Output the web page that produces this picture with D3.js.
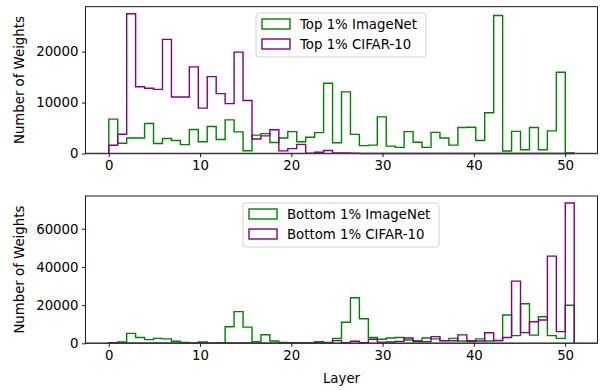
<!DOCTYPE html>
<html><head><meta charset="utf-8">
<script src="https://cdn.jsdelivr.net/npm/d3@7"></script>
<style>
body{margin:0;background:#fff;}
svg{display:block;font-family:"DejaVu Sans",sans-serif;}
</style></head>
<body><svg id="chart" width="605" height="390"></svg>
<script>
// ---- data (one value per layer, 52 layers) ----
const topImageNet = [6750,2000,3050,3050,5880,1950,2950,2550,1750,4700,2300,5300,2750,6600,4250,550,3600,3900,2150,3050,4300,2300,3200,4100,13800,2100,12100,3750,1550,1650,7200,1450,1200,4300,2200,1200,4150,3050,1650,5100,5150,2550,8000,27100,500,4350,750,5100,750,4450,15950,130];
const topCifar = [1630,3790,27450,13100,12800,12600,22400,11100,11100,17000,8900,15100,11760,9800,19900,10400,2850,3460,4650,520,950,1800,80,250,600,120,100,50,0,0,0,0,0,0,0,0,0,0,0,0,0,0,0,0,0,0,0,0,0,0,0,0];
const bottomImageNet = [300,700,5200,3000,1900,2600,2300,1050,500,150,700,100,350,8700,16600,8500,900,4500,1200,500,350,350,350,850,500,2500,11000,23900,12900,3000,2100,2800,3000,1750,1400,2800,2300,1400,2600,1200,900,2300,1200,1400,14800,4000,20700,4300,13900,4000,2600,19900];
const bottomCifar = [0,0,0,0,0,0,0,0,0,0,0,0,50,150,150,150,100,100,100,50,50,50,100,150,300,1400,300,1100,300,2100,600,700,1000,2800,900,900,3500,1300,1300,4400,1300,1200,5500,1500,3000,32600,5600,11300,12200,45700,6100,73500];
const xTicks = [0,10,20,30,40,50];
const topYTicks = [0,10000,20000];
const bottomYTicks = [0,20000,40000,60000];
const topLabels = ["Top 1% ImageNet","Top 1% CIFAR-10"];
const bottomLabels = ["Bottom 1% ImageNet","Bottom 1% CIFAR-10"];
const seriesColors = ["green","purple"];
const xLabel = "Layer";
const yLabel = "Number of Weights";

// ---- layout ----
const svg = d3.select("#chart");
const FS = 13.3;
const L = 85.5, R = 597.5;
const nBins = 52, lo = 0, hi = 51;
const edges = d3.range(nBins+1).map(i => lo + (hi-lo)*i/nBins);
const x = d3.scaleLinear().domain([lo-(hi-lo)*0.05, hi+(hi-lo)*0.05]).range([L,R]);

function panel(top, bottom, seriesList, yTicks, labels, legendPos, showXLabel){
  const ymax = d3.max(seriesList.flat())*1.05;
  const y = d3.scaleLinear().domain([0,ymax]).range([bottom,top]);
  const g = svg.append("g");
  // step lines
  seriesList.forEach((vals,k)=>{
    const pts = [[edges[0],0]];
    vals.forEach((v,i)=>{pts.push([edges[i],v]);pts.push([edges[i+1],v]);});
    pts.push([edges[nBins],0]);
    g.append("path").attr("d", d3.line().x(d=>x(d[0])).y(d=>y(d[1]))(pts))
      .attr("fill","none").attr("stroke",seriesColors[k]).attr("stroke-width",1.4)
      .attr("stroke-linejoin","miter");
  });
  // spines
  g.append("rect").attr("x",L).attr("y",top).attr("width",R-L).attr("height",bottom-top)
    .attr("fill","none").attr("stroke","#000").attr("stroke-width",0.9);
  g.append("line").attr("x1",L).attr("x2",R).attr("y1",bottom).attr("y2",bottom)
    .attr("stroke","#3a3a3a").attr("stroke-width",1.6);
  // axes
  const xa = g.append("g").attr("transform",`translate(0,${bottom})`)
    .call(d3.axisBottom(x).tickValues(xTicks).tickSize(3.5).tickPadding(3.5).tickFormat(d3.format("d")));
  const ya = g.append("g").attr("transform",`translate(${L},0)`)
    .call(d3.axisLeft(y).tickValues(yTicks).tickSize(3.5).tickPadding(3.5).tickFormat(d3.format("d")));
  [xa,ya].forEach(a=>{
    a.select(".domain").remove();
    a.selectAll("line").attr("stroke","#000").attr("stroke-width",0.9);
    a.selectAll("text").attr("font-family","DejaVu Sans").attr("font-size",FS).attr("fill","#000");
  });
  // y label
  g.append("text").attr("transform",`translate(24,${(top+bottom)/2}) rotate(-90)`)
    .attr("text-anchor","middle").attr("font-size",FS).text(yLabel);
  if(showXLabel){
    g.append("text").attr("x",(L+R)/2).attr("y",383).attr("text-anchor","middle")
      .attr("font-size",FS).text(xLabel);
  }
  // legend
  const [lx,ly,lw] = legendPos;
  const lg = g.append("g").attr("transform",`translate(${lx},${ly})`);
  lg.append("rect").attr("width",lw).attr("height",44).attr("rx",3)
    .attr("fill","#fff").attr("fill-opacity",0.8).attr("stroke","#ccc").attr("stroke-width",0.9);
  labels.forEach((t,k)=>{
    lg.append("rect").attr("x",6).attr("y",6+k*20).attr("width",28).attr("height",10)
      .attr("fill","none").attr("stroke",seriesColors[k]).attr("stroke-width",1.4);
    lg.append("text").attr("x",44).attr("y",16+k*20).attr("font-size",FS).text(t);
  });
}

panel(6.7, 153.5, [topImageNet, topCifar], topYTicks, topLabels, [256, 13, 170], false);
panel(196, 343.3, [bottomImageNet, bottomCifar], bottomYTicks, bottomLabels, [243, 203, 196], true);
</script>
</body></html>
